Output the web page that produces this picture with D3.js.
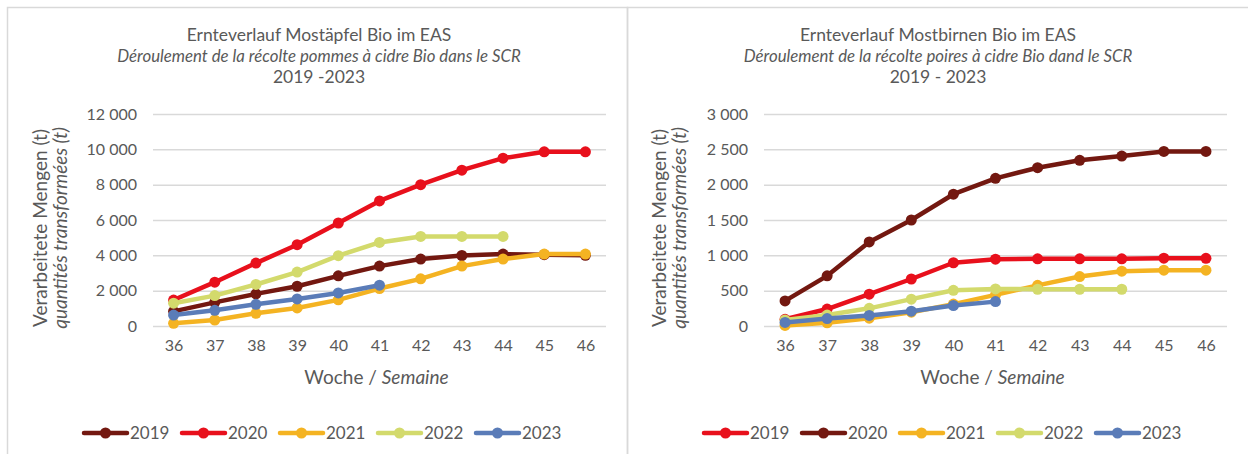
<!DOCTYPE html>
<html><head><meta charset="utf-8">
<script src="https://cdn.jsdelivr.net/npm/d3@7/dist/d3.min.js"></script>
<style>
body{margin:0;background:#fff}
svg text{font-family:Lato,"Open Sans",sans-serif;fill:#595959}
</style>
</head><body>
<svg id="c" width="1248" height="454"></svg>
<script>
// ---------- data ----------
const weeks = ["36","37","38","39","40","41","42","43","44","45","46"];
const years = ["2019","2020","2021","2022","2023"];

// Mostäpfel (apples), tonnes, cumulative
const apples2019 = [830, 1340, 1820, 2250, 2840, 3390, 3790, 3990, 4070, 4040, 4000];
const apples2020 = [1470, 2480, 3560, 4600, 5830, 7080, 8000, 8820, 9500, 9860, 9860];
const apples2021 = [150, 340, 720, 1020, 1480, 2120, 2670, 3390, 3790, 4070, 4070];
const apples2022 = [1290, 1720, 2350, 3050, 3980, 4730, 5070, 5070, 5070];
const apples2023 = [620, 890, 1230, 1530, 1870, 2310];

// Mostbirnen (pears), tonnes, cumulative
const pears2019 = [95, 240, 450, 665, 895, 945, 950, 950, 950, 960, 958];
const pears2020 = [355, 710, 1190, 1500, 1865, 2090, 2240, 2345, 2405, 2470, 2470];
const pears2021 = [8, 45, 110, 195, 310, 440, 575, 700, 775, 790, 790];
const pears2022 = [85, 155, 250, 380, 505, 525, 520, 520, 520];
const pears2023 = [50, 105, 150, 210, 290, 345];

const appleTicks = [0, 2000, 4000, 6000, 8000, 10000, 12000];
const pearTicks = [0, 500, 1000, 1500, 2000, 2500, 3000];

const appleColors = ["#731810", "#E8101C", "#F4B322", "#D3DA6C", "#5A7CB8"];
const pearColors  = ["#E8101C", "#731810", "#F4B322", "#D3DA6C", "#5A7CB8"];

const titleApples = ["Ernteverlauf Mostäpfel Bio im EAS", "Déroulement de la récolte pommes à cidre Bio dans le SCR", "2019 -2023"];
const titlePears  = ["Ernteverlauf Mostbirnen Bio im EAS", "Déroulement de la récolte poires à cidre Bio dand le SCR", "2019 - 2023"];
const yTitle = ["Verarbeitete Mengen (t)", "quantités transformées (t)"];
const xTitle = ["Woche / ", "Semaine"];

// ---------- drawing ----------
const svg = d3.select("#c");
svg.append("rect").attr("width",1248).attr("height",454).attr("fill","#fff");

const fmt = d3.formatLocale({decimal:",", thousands:"\u00a0", grouping:[3], currency:["",""]}).format(",d");

function chart(o){
  const g = svg.append("g");
  // panel border
  g.append("rect").attr("x",o.px0+0.5).attr("y",7.5).attr("width",o.px1-o.px0).attr("height",500)
    .attr("fill","none").attr("stroke","#d9d9d9").attr("stroke-width",1.5);

  const x = d3.scalePoint().domain(weeks).range([o.x0, o.x1]).padding(0.5);
  const y = d3.scaleLinear().domain([0, o.ticks[o.ticks.length-1]]).range([326, 114]);

  const ya = g.append("g").attr("transform",`translate(${o.x0},0)`)
    .call(d3.axisLeft(y).tickValues(o.ticks).tickFormat(fmt).tickSize(-(o.x1-o.x0)).tickPadding(16));
  ya.select(".domain").remove();
  ya.selectAll(".tick line").attr("stroke","#d9d9d9").attr("stroke-width",1.5);
  ya.selectAll(".tick text").attr("font-size",16).attr("fill","#595959");

  const xa = g.append("g").attr("transform",`translate(0,326)`)
    .call(d3.axisBottom(x).tickSize(0).tickPadding(14));
  xa.select(".domain").remove();
  xa.selectAll(".tick text").attr("font-size",16).attr("fill","#595959");

  // titles
  const t = g.append("text").attr("text-anchor","middle").attr("font-size",17.5);
  t.append("tspan").attr("x",o.tc).attr("y",41).text(o.title[0]);
  t.append("tspan").attr("x",o.tc).attr("y",62).attr("font-style","italic").attr("font-size",16.8).text(o.title[1]);
  t.append("tspan").attr("x",o.tc + o.t3off).attr("y",83).text(o.title[2]);

  // y title
  const cy = 228;
  g.append("text").attr("transform",`translate(${o.yt},${cy}) rotate(-90)`).attr("text-anchor","middle")
    .attr("font-size",19).text(yTitle[0]);
  g.append("text").attr("transform",`translate(${o.yt+20},${cy}) rotate(-90)`).attr("text-anchor","middle")
    .attr("font-size",19).attr("font-style","italic").text(yTitle[1]);

  // x title
  const xt = g.append("text").attr("x",(o.x0+o.x1)/2 - 3).attr("y",384).attr("text-anchor","middle").attr("font-size",19);
  xt.append("tspan").text(xTitle[0]);
  xt.append("tspan").attr("font-style","italic").text(xTitle[1]);

  // series
  const line = d3.line().x((d,i)=>x(weeks[i])).y(d=>y(d));
  o.series.forEach((s,k)=>{
    const sg = g.append("g");
    sg.append("path").attr("d",line(s)).attr("fill","none").attr("stroke",o.colors[k])
      .attr("stroke-width",4.5).attr("stroke-linejoin","round").attr("stroke-linecap","round");
    sg.selectAll("circle").data(s).join("circle")
      .attr("cx",(d,i)=>x(weeks[i])).attr("cy",d=>y(d)).attr("r",5.5).attr("fill",o.colors[k]);
  });

  // legend
  const lg = g.append("g").attr("transform",`translate(${o.lx},433)`);
  years.forEach((yr,k)=>{
    const it = lg.append("g").attr("transform",`translate(${k*98},0)`);
    it.append("line").attr("x1",0).attr("x2",43).attr("stroke",o.colors[k]).attr("stroke-width",4.5).attr("stroke-linecap","round");
    it.append("circle").attr("cx",21.5).attr("r",5.5).attr("fill",o.colors[k]);
    it.append("text").attr("x",46).attr("dy","0.35em").attr("font-size",17).text(yr);
  });
}

chart({px0:7, px1:627, x0:153, x1:606, tc:319, t3off:0, yt:47, lx:84,
  ticks:appleTicks, colors:appleColors, title:titleApples,
  series:[apples2019, apples2020, apples2021, apples2022, apples2023]});
chart({px0:627, px1:1260, x0:764, x1:1227, tc:938, t3off:0, yt:666, lx:704,
  ticks:pearTicks, colors:pearColors, title:titlePears,
  series:[pears2019, pears2020, pears2021, pears2022, pears2023]});
</script>
</body></html>
